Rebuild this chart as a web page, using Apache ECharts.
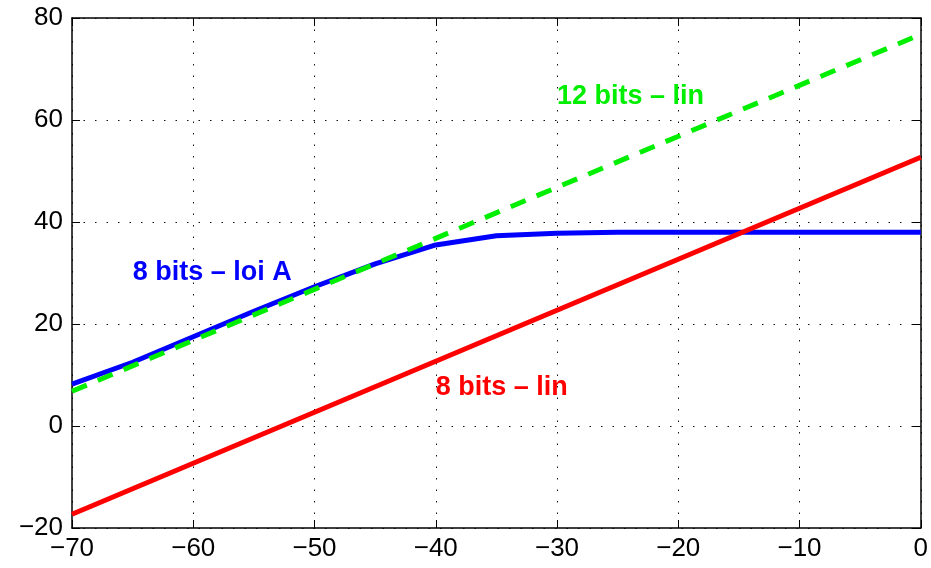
<!DOCTYPE html>
<html>
<head>
<meta charset="utf-8">
<script src="https://cdn.jsdelivr.net/npm/echarts@6/dist/echarts.min.js"></script>
<style>
  html, body { margin: 0; padding: 0; background: #fff; }
  #chart { width: 931px; height: 568px; }
</style>
</head>
<body>
<div id="chart"></div>
<script>
// input level (dB) -> SNR (dB)
const xLoiA = [-70, -65, -60, -55, -50, -45, -40, -35, -30, -25, -20, -15, -10, -5, 0];
const snrLoiA = [8.2, 12.5, 17.5, 22.5, 27.3, 31.8, 35.5, 37.3, 37.8, 38.0, 38.0, 38.0, 38.0, 38.0, 38.0];
const xLin = [-70, 0];
const snr12Lin = [6.8, 76.8];
const snr8Lin = [-17.3, 52.7];

const labelFont = "Liberation Sans, Arial, Helvetica, sans-serif";
const minus = (v) => String(v).replace("-", "\u2212");

const pairs = (xs, ys) => xs.map((x, i) => [x, ys[i]]);

function tag(text, color, coord) {
    return {
        symbol: "circle",
        symbolSize: 0,
        silent: true,
        data: [{
            coord: coord,
            label: {
                show: true,
                formatter: text,
                position: "right",
                distance: 0,
                color: color,
                fontSize: 27,
                fontWeight: "bold",
                fontFamily: labelFont,
            },
        }],
    };
}

const chart = echarts.init(document.getElementById("chart"));

const axisCommon = {
    axisLine: { show: true, onZero: false, lineStyle: { color: "#000", width: 1.5 } },
    axisTick: { show: true, inside: true, length: 8, lineStyle: { color: "#000", width: 1 } },
};

chart.setOption({
    animation: false,
    grid: { left: 72, right: 9, top: 18, bottom: 40 },
    xAxis: [
        {
            type: "value", min: -70, max: 0, interval: 10, position: "bottom",
            ...axisCommon,
            axisLabel: { color: "#000", fontSize: 26, fontFamily: labelFont, margin: 8, formatter: minus },
            splitLine: { show: true, lineStyle: { color: "#111", width: 1, type: [1.5, 10] } },
        },
        {
            type: "value", min: -70, max: 0, interval: 10, position: "top",
            ...axisCommon,
            axisLabel: { show: false },
            splitLine: { show: false },
        },
    ],
    yAxis: [
        {
            type: "value", min: -20, max: 80, interval: 20, position: "left",
            ...axisCommon,
            axisLabel: { color: "#000", fontSize: 26, fontFamily: labelFont, margin: 9, formatter: minus },
            splitLine: { show: true, lineStyle: { color: "#111", width: 1, type: [1.5, 10] } },
        },
        {
            type: "value", min: -20, max: 80, interval: 20, position: "right",
            ...axisCommon,
            axisLabel: { show: false },
            splitLine: { show: false },
        },
    ],
    series: [
        {
            name: "8 bits - loi A",
            type: "line",
            data: pairs(xLoiA, snrLoiA),
            symbol: "none",
            lineStyle: { color: "#0000ff", width: 5 },
            z: 2,
            markPoint: tag("8 bits \u2013 loi A", "#0000ff", [-65, 30]),
        },
        {
            name: "12 bits - lin",
            type: "line",
            data: pairs(xLin, snr12Lin),
            symbol: "none",
            lineStyle: { color: "#00ee00", width: 5, type: [16, 12] },
            z: 3,
            markPoint: tag("12 bits \u2013 lin", "#00ee00", [-30, 64.6]),
        },
        {
            name: "8 bits - lin",
            type: "line",
            data: pairs(xLin, snr8Lin),
            symbol: "none",
            lineStyle: { color: "#ff0000", width: 5 },
            z: 4,
            markPoint: tag("8 bits \u2013 lin", "#ff0000", [-40, 7.6]),
        },
    ],
});
</script>
</body>
</html>
